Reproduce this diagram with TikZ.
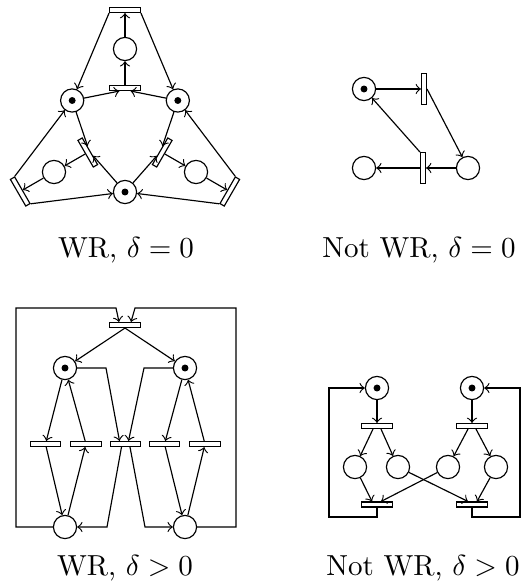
\documentclass[tikz,border=0pt]{standalone}
\usetikzlibrary{calc}
\begin{document}
\begin{tikzpicture}[x=0.345pt,y=-0.345pt,
  place/.style={circle, draw, minimum size=8pt, inner sep=0pt},
  token/.style={place, path picture={\fill (path picture bounding box.center) circle (1.2pt);}},
  trans/.style={rectangle, draw, minimum width=10.6pt, minimum height=1.7pt, inner sep=0pt},
  vtrans/.style={rectangle, draw, minimum width=1.7pt, minimum height=10.6pt, inner sep=0pt},
  arc/.style={->},
  lbl/.style={anchor=base, inner sep=0pt}]
\useasboundingbox (0,0) rectangle (522,582);

% ---------- top left: WR, delta = 0 ----------
\begin{scope}[shift={(125,131)}, y=0.345pt]
  \node[token] (A1) at (150:61) {};
  \node[token] (A2) at (30:61) {};
  \node[token] (A3) at (270:61) {};
  \foreach \a/\n in {90/1,210/2,330/3} {
    \node[trans, rotate=\a-90] (O\n) at (\a:121) {};
    \node[place] (C\n) at (\a:82) {};
    \node[trans, rotate=\a-90] (I\n) at (\a:43) {};
  }
\end{scope}
\foreach \n/\L/\R in {1/A1/A2, 2/A3/A1, 3/A2/A3} {
  \draw[arc] (\L) -- ($(I\n.south)!0.35!(I\n.south west)$);
  \draw[arc] (\R) -- ($(I\n.south)!0.35!(I\n.south east)$);
  \draw[arc] (I\n) -- (C\n);
  \draw[arc] (C\n) -- (O\n);
  \draw[arc] (O\n.south west) -- (\L);
  \draw[arc] (O\n.south east) -- (\R);
}
\node[lbl] (L1) at (126,257) {WR, $\delta=0$};

% ---------- top right: Not WR, delta = 0 ----------
\node[token] (B1) at (364,89) {};
\node[vtrans] (BT1) at (424,89) {};
\node[place] (B2) at (468,168) {};
\node[vtrans] (BT2) at (423,168) {};
\node[place] (B3) at (364,168) {};
\draw[arc] (B1) -- (BT1);
\draw[arc] (BT1.east) -- (B2);
\draw[arc] (B2) -- (BT2);
\draw[arc] (BT2) -- (B3);
\draw[arc] (BT2.north west) -- (B1);
\node[lbl] (L2) at (419,257) {Not WR, $\delta=0$};

% ---------- bottom left: WR, delta > 0 ----------
\node[trans] (D0) at (125,325) {};
\node[token] (DL) at (65,368) {};
\node[token] (DR) at (185,368) {};
\node[trans] (D1) at (45.5,444) {};
\node[trans] (D2) at (86,444) {};
\node[trans] (D3) at (125.5,444) {};
\node[trans] (D4) at (164.5,444) {};
\node[trans] (D5) at (205,444) {};
\node[place] (EL) at (65,527) {};
\node[place] (ER) at (185,527) {};
\coordinate (G1) at (106,368);
\coordinate (G2) at (144,368);
\coordinate (G3) at (107,527);
\coordinate (G4) at (145,527);
\coordinate (F1) at (16,527);
\coordinate (F2) at (16,308);
\coordinate (F3) at (116,308);
\coordinate (F4) at (236,527);
\coordinate (F5) at (236,308);
\coordinate (F6) at (135,308);
\draw[arc] (D0.south) -- (DL);
\draw[arc] (D0.south) -- (DR);
\draw[arc] (DL) -- (D1);
\draw[arc] (D2) -- (DL);
\draw[arc] (D1) -- (EL);
\draw[arc] (EL) -- (D2);
\draw[arc] (DR) -- (D4);
\draw[arc] (D5) -- (DR);
\draw[arc] (D4) -- (ER);
\draw[arc] (ER) -- (D5);
\draw[arc] (DL.east) -- (G1) -- ($(D3.north)+(-6,0)$);
\draw[arc] (DR.west) -- (G2) -- ($(D3.north)+(3,0)$);
\draw[arc] ($(D3.south)+(-4,0)$) -- (G3) -- (EL.east);
\draw[arc] ($(D3.south)+(4.5,0)$) -- (G4) -- (ER.west);
\draw[arc] (EL.west) -- (F1) -- (F2) -- (F3) -- ($(D0.north)+(-6,0)$);
\draw[arc] (ER.east) -- (F4) -- (F5) -- (F6) -- ($(D0.north)+(6,0)$);
\node[lbl] (L3) at (125,575) {WR, $\delta>0$};

% ---------- bottom right: Not WR, delta > 0 ----------
\node[token] (H1) at (377,388) {};
\node[token] (H2) at (472,388) {};
\node[trans] (U1) at (377,426) {};
\node[trans] (U2) at (472,426) {};
\node[place] (K1) at (355,467) {};
\node[place] (K2) at (398,467) {};
\node[place] (K3) at (448,467) {};
\node[place] (K4) at (496,467) {};
\node[trans] (V1) at (377,504.5) {};
\node[trans] (V2) at (472,504.5) {};
\coordinate (M1) at (377,517);
\coordinate (M2) at (329,517);
\coordinate (M3) at (329,388);
\coordinate (N1) at (472,517);
\coordinate (N2) at (520,517);
\coordinate (N3) at (520,388);
\draw[arc] (H1) -- (U1);
\draw[arc] (H2) -- (U2);
\draw[arc] ($(U1.south)+(-4,0)$) -- (K1);
\draw[arc] ($(U1.south)+(4,0)$) -- (K2);
\draw[arc] ($(U2.south)+(-4,0)$) -- (K3);
\draw[arc] ($(U2.south)+(4,0)$) -- (K4);
\draw[arc] (K1) -- ($(V1.north)+(-5,0)$);
\draw[arc] (K3) -- ($(V1.north)+(4,0)$);
\draw[arc] (K2) -- ($(V2.north)+(-4,0)$);
\draw[arc] (K4) -- ($(V2.north)+(5,0)$);
\draw[arc] (V1.south) -- (M1) -- (M2) -- (M3) -- (H1.west);
\draw[arc] (V2.south) -- (N1) -- (N2) -- (N3) -- (H2.east);
\node[lbl] (L4) at (423,575) {Not WR, $\delta>0$};
\end{tikzpicture}
\end{document}
